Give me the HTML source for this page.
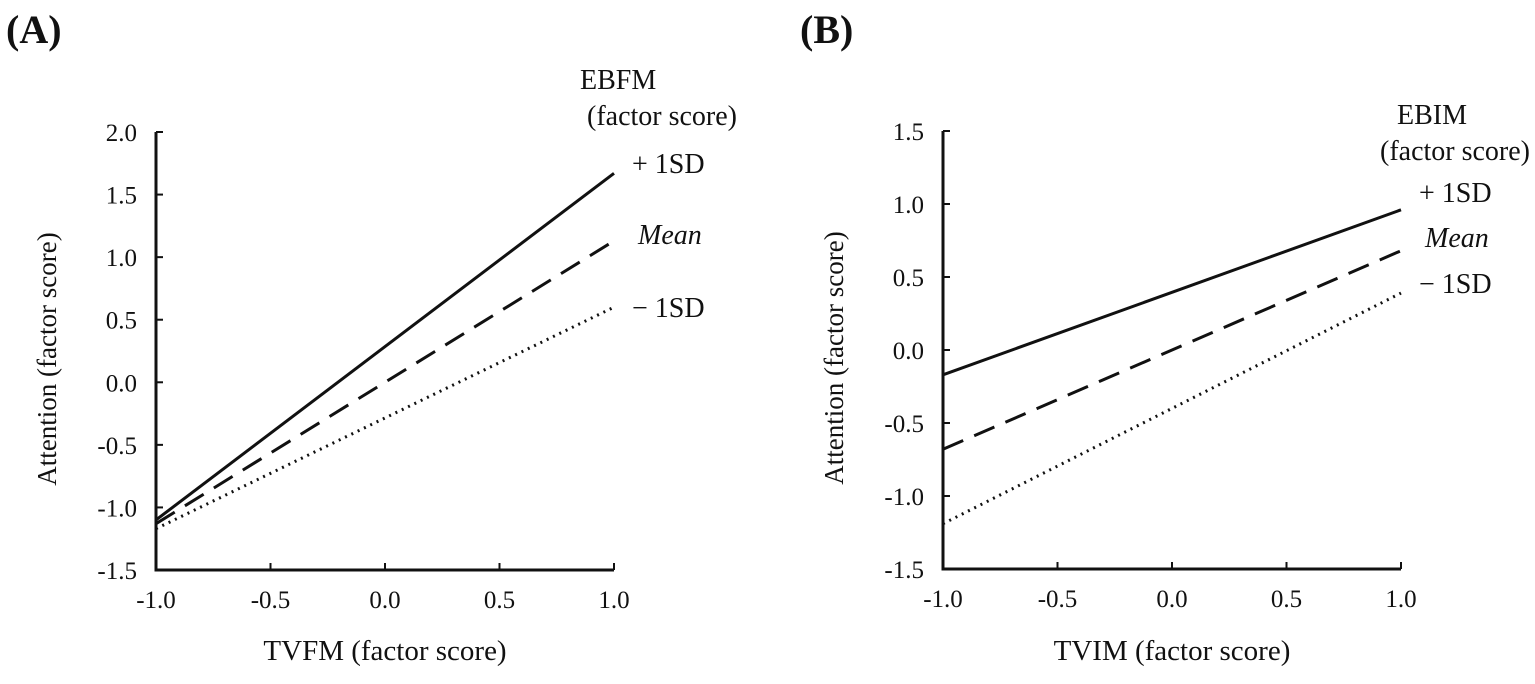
<!DOCTYPE html>
<html><head><meta charset="utf-8"><style>
body{margin:0;background:#fff}
svg text{font-family:"Liberation Serif",serif;fill:#111}
</style></head><body>
<svg id="c" width="1535" height="679"></svg>
<script>
const xTicks=["-1.0","-0.5","0.0","0.5","1.0"];
const xVals=[-1,-0.5,0,0.5,1];
const aYTicks=[2.0,1.5,1.0,0.5,0.0,-0.5,-1.0,-1.5];
const bYTicks=[1.5,1.0,0.5,0.0,-0.5,-1.0,-1.5];
const seriesNames=["+1SD","Mean","-1SD"];
const aStart=[-1.10,-1.13,-1.17];
const aEnd=[1.67,1.13,0.60];
const bStart=[-0.17,-0.68,-1.19];
const bEnd=[0.96,0.68,0.39];
const styles=[{d:"",w:3},{d:"22,12",w:3},{d:"2,5",w:3}];
const svg=document.getElementById('c');
const NS="http://www.w3.org/2000/svg";
function mk(t,a,txt){const e=document.createElementNS(NS,t);for(const k in a)e.setAttribute(k,a[k]);if(txt!==undefined)e.textContent=txt;svg.appendChild(e);return e;}
function panel(p){
 const sx=v=>p.x0+(v+1)/2*(p.x1-p.x0);
 const sy=v=>p.yTop+(p.yMax-v)/(p.yMax-p.yMin)*(p.yBot-p.yTop);
 let e=mk('text',{x:p.labelX,y:43,'font-size':40,'font-weight':'bold'},p.label);
 
 
 e=mk('path',{d:`M${p.x0} ${p.yTop}V${p.yBot}H${p.x1}`,stroke:'#111','stroke-width':3,fill:'none'});
 
 
 p.yt.forEach(v=>{
  const y=sy(v);
  const t=mk('line',{x1:p.x0,x2:p.x0+7,y1:y,y2:y,stroke:'#111','stroke-width':2});
  
  
  const l=mk('text',{x:p.x0-19,y:y+9,'font-size':25,'text-anchor':'end'},v.toFixed(1));
  
  
 });
 xVals.forEach((v,i)=>{
  const x=sx(v);
  const t=mk('line',{x1:x,x2:x,y1:p.yBot,y2:p.yBot-7,stroke:'#111','stroke-width':2});
  
  
  const l=mk('text',{x:x,y:p.yBot+38,'font-size':25,'text-anchor':'middle'},xTicks[i]);
  
  
 });
 p.s.forEach((s,i)=>{
  const ln=mk('line',{x1:sx(-1),y1:sy(s),x2:sx(1),y2:sy(p.e[i]),stroke:'#111','stroke-width':styles[i].w,'stroke-dasharray':styles[i].d});
  
  
 });
 e=mk('text',{x:(p.x0+p.x1)/2,y:660,'font-size':29,'text-anchor':'middle'},p.xTitle);
 
 
 const cy=(p.yTop+p.yBot)/2+8;
 const tx=p.x0-100;
 e=mk('text',{x:tx,y:cy,'font-size':27,'text-anchor':'middle',transform:`rotate(-90 ${tx} ${cy})`},'Attention (factor score)');
 
 
 e=mk('text',{x:p.x1+p.modX,y:p.legY,'font-size':28},p.mod);
 
 
 e=mk('text',{x:p.x1+p.fsX,y:p.legY+36,'font-size':28},'(factor score)');
 
 
 const legTxt=["+ 1SD","Mean","− 1SD"];
 legTxt.forEach((t,i)=>{
  const a={x:p.x1+18+(i==1?6:0),y:p.entY[i],'font-size':28};
  if(i==1)a['font-style']='italic';
  const l=mk('text',a,t);
  
  
 });
}
panel({id:'a',label:'(A)',labelX:6,x0:156,x1:614,yTop:132,yBot:570,yMax:2,yMin:-1.5,yt:aYTicks,s:aStart,e:aEnd,xTitle:'TVFM (factor score)',mod:'EBFM',legY:89,modX:-34,fsX:-27,entY:[173,244,317]});
panel({id:'b',label:'(B)',labelX:800,x0:943,x1:1401,yTop:131,yBot:569,yMax:1.5,yMin:-1.5,yt:bYTicks,s:bStart,e:bEnd,xTitle:'TVIM (factor score)',mod:'EBIM',legY:124,modX:-4,fsX:-21,entY:[202,247,293]});
</script>
</body></html>
